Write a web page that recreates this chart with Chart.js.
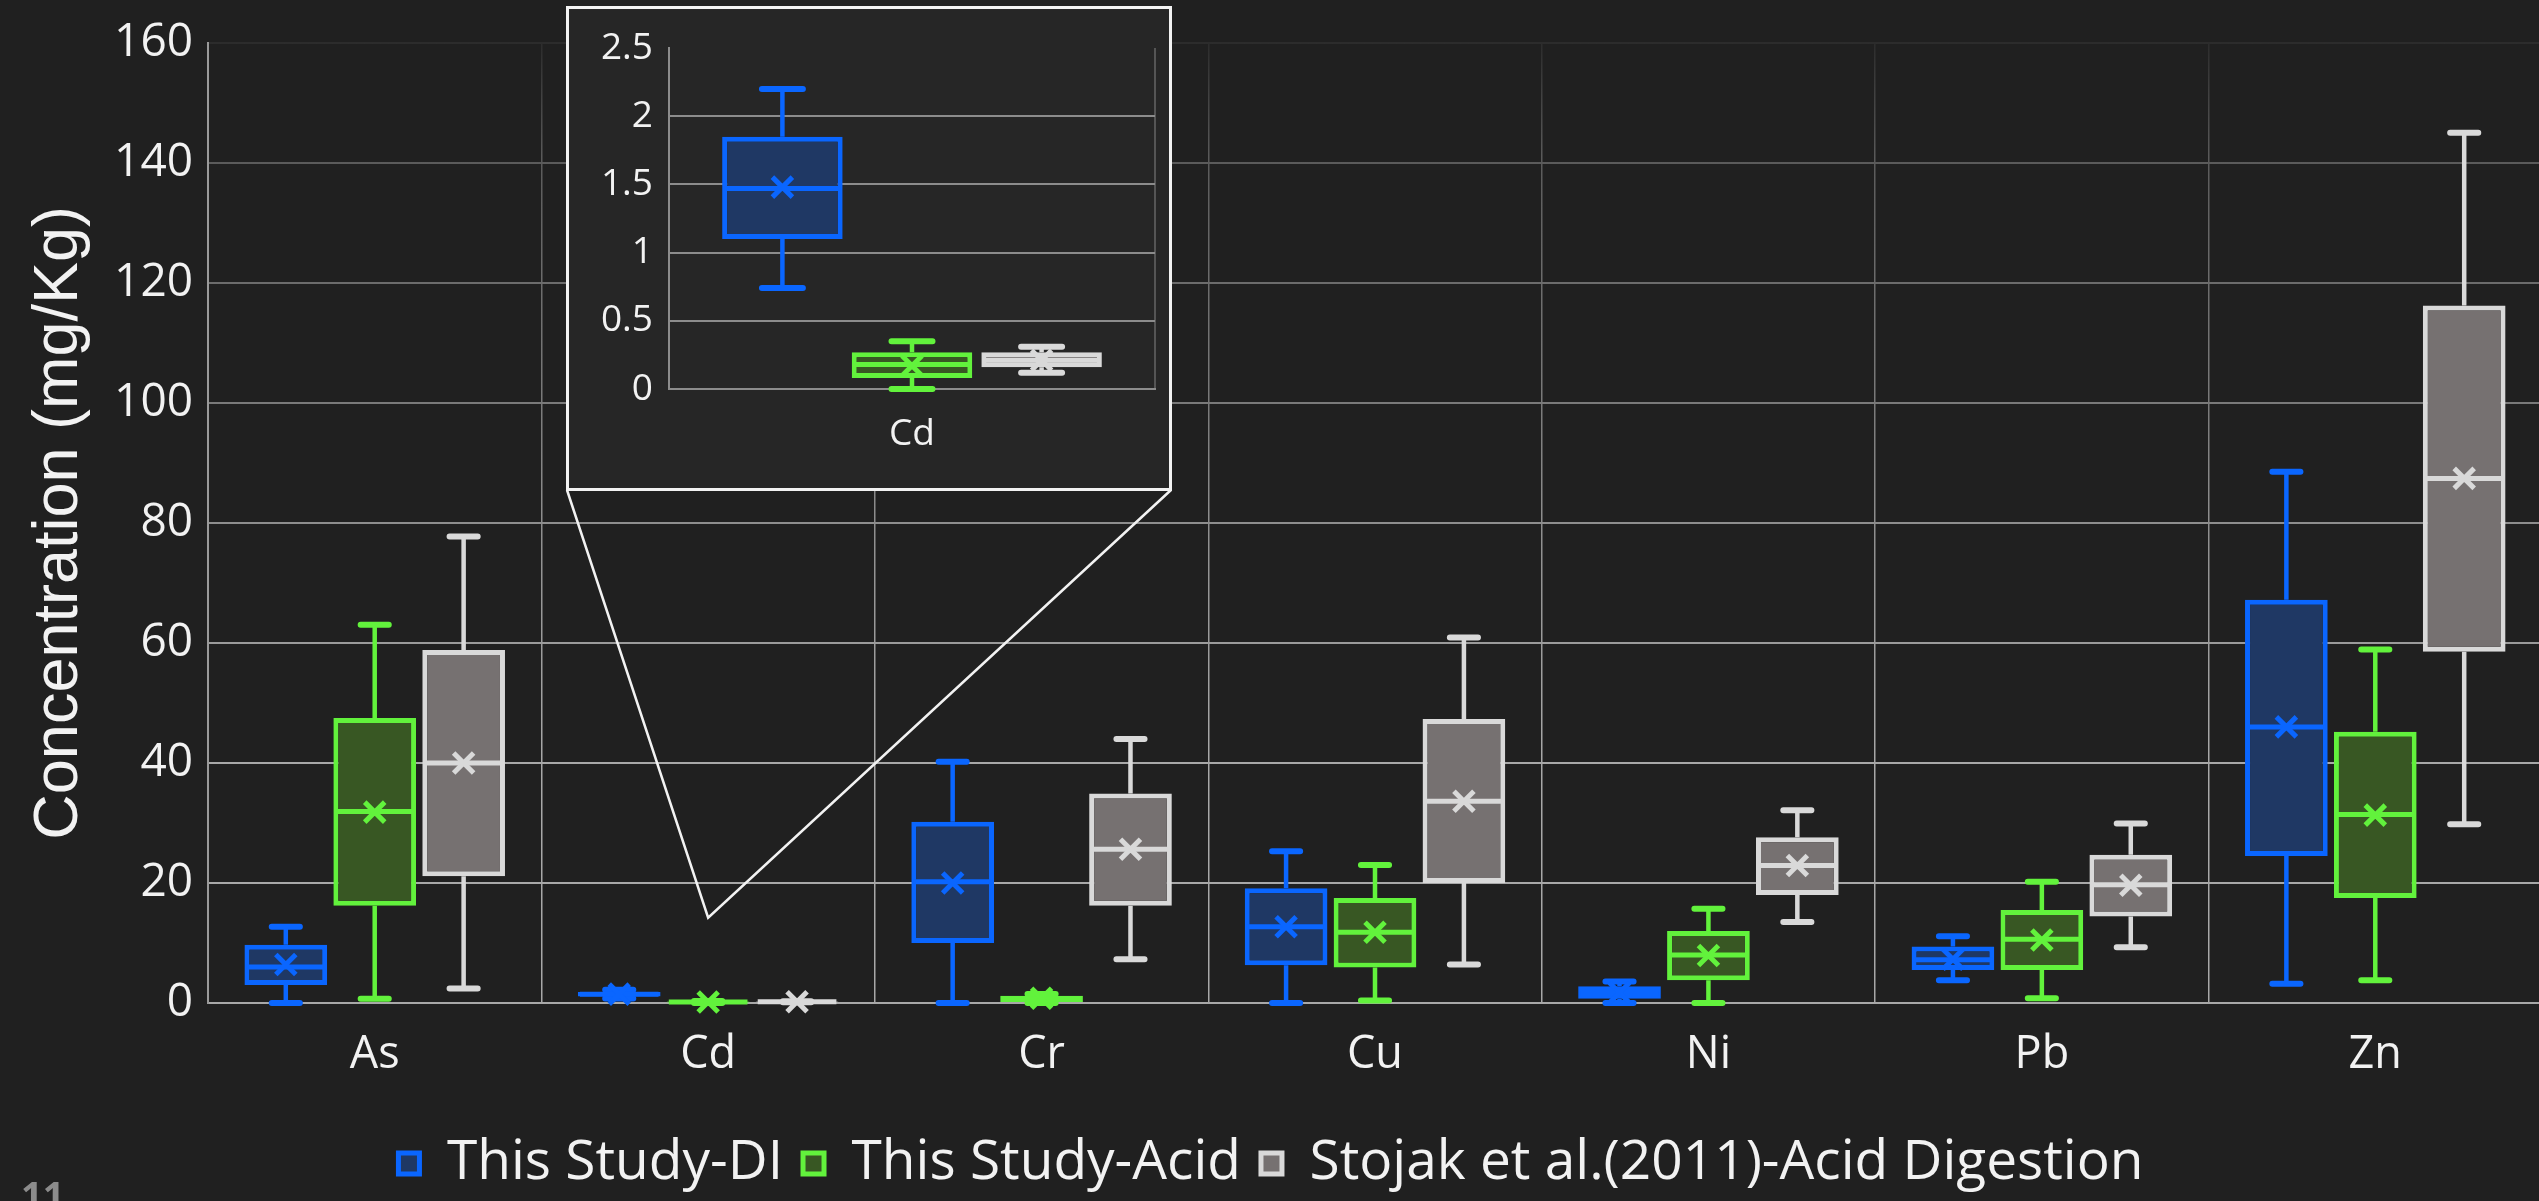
<!DOCTYPE html>
<html lang="en">
<head>
  <meta charset="UTF-8">
  <title>Heavy metal concentrations</title>
  <script src="https://cdn.jsdelivr.net/npm/chart.js"></script>
  <style>
    body {
      margin: 0;
      background-color: #202020;
      overflow: hidden;
      width: 2539px;
      height: 1201px;
      font-family: "Open Sans", sans-serif;
    }
    .main {
      position: absolute;
      left: 0;
      top: 0;
      width: 2542px;
      height: 1201px;
    }
    .inset {
      position: absolute;
      left: 566px;
      top: 6px;
      width: 600px;
      height: 479px;
      border: 3px solid #f2f2f2;
      background-color: #262626;
    }
    .slide-no {
      position: absolute;
      left: 21px;
      top: 1175px;
      font-size: 38px;
      font-weight: bold;
      line-height: 1;
      color: #8c8c8c;
    }
  </style>
</head>
<body>
  <div class="main"><canvas id="boxChart"></canvas></div>
  <div class="inset" id="inset"><canvas id="cdChart"></canvas></div>
  <div class="slide-no">11</div>

  <script>
    const elements = ['As', 'Cd', 'Cr', 'Cu', 'Ni', 'Pb', 'Zn'];
    const seriesLabels = ['This Study-DI', 'This Study-Acid', 'Stojak et al.(2011)-Acid Digestion'];

    // This Study-DI (mg/Kg)
    const diMin  = [0,    0.74, 0,    0,    0,    3.8,  3.2];
    const diQ1   = [3.0,  1.10, 10.0, 6.3,  0.7,  5.5,  24.5];
    const diMed  = [6.0,  1.47, 20.2, 12.7, 1.6,  7.2,  46.0];
    const diQ3   = [9.7,  1.85, 30.2, 19.1, 2.8,  9.4,  67.2];
    const diMax  = [12.7, 2.20, 40.2, 25.3, 3.6,  11.1, 88.5];
    const diMean = [6.4,  1.48, 20.0, 12.7, 1.7,  7.3,  46.0];

    // This Study-Acid (mg/Kg)
    const acidMin  = [0.7,  0.00, 0.0,  0.4,  0.0,  0.8,  3.8];
    const acidQ1   = [16.2, 0.08, 0.15, 5.9,  3.8,  5.5,  17.5];
    const acidMed  = [31.9, 0.18, 0.7,  11.8, 8.0,  10.6, 31.4];
    const acidQ3   = [47.5, 0.27, 1.2,  17.5, 12.0, 15.5, 45.2];
    const acidMax  = [63.0, 0.35, 1.5,  23.0, 15.7, 20.2, 58.9];
    const acidMean = [31.8, 0.17, 0.8,  11.8, 7.9,  10.5, 31.3];

    // Stojak et al. (2011) acid digestion (mg/Kg)
    const stoMin  = [2.4,  0.12, 7.3,  6.4,  13.5, 9.3,  29.8];
    const stoQ1   = [21.1, 0.16, 16.2, 20.0, 18.0, 14.4, 58.5];
    const stoMed  = [40.0, 0.21, 25.6, 33.6, 22.9, 19.7, 87.4];
    const stoQ3   = [58.8, 0.27, 34.9, 47.3, 27.6, 24.7, 116.2];
    const stoMax  = [77.7, 0.31, 44.0, 60.9, 32.1, 29.9, 145.0];
    const stoMean = [40.0, 0.21, 25.6, 33.6, 22.9, 19.6, 87.4];

    const series = [
      { label: seriesLabels[0], min: diMin, q1: diQ1, med: diMed, q3: diQ3, max: diMax, mean: diMean,
        line: '#0a66ff', fill: '#1f3864' },
      { label: seriesLabels[1], min: acidMin, q1: acidQ1, med: acidMed, q3: acidQ3, max: acidMax, mean: acidMean,
        line: '#62f23c', fill: '#385723' },
      { label: seriesLabels[2], min: stoMin, q1: stoQ1, med: stoMed, q3: stoQ3, max: stoMax, mean: stoMean,
        line: '#d9d9d9', fill: '#767171' }
    ];

    Chart.defaults.font.family = '"Open Sans", sans-serif';

    // boxes are floating bars q1..q3, the rest is drawn on top of them
    function makeDatasets(idx) {
      return series.map(s => ({
        label: s.label,
        data: idx.map(i => [s.q1[i], s.q3[i]]),
        stats: idx.map(i => ({ min: s.min[i], med: s.med[i], max: s.max[i], mean: s.mean[i],
                               q1: s.q1[i], q3: s.q3[i] })),
        backgroundColor: s.fill,
        borderColor: s.line,
        borderWidth: 5,
        borderSkipped: false,
        categoryPercentage: 0.8,
        barPercentage: 0.93
      }));
    }

    const boxPlot = {
      id: 'boxPlot',
      afterDatasetsDraw(chart) {
        const ctx = chart.ctx;
        const y = chart.scales.y;
        const py = v => y.getPixelForValue(v);
        ctx.save();
        chart.data.datasets.forEach((ds, d) => {
          chart.getDatasetMeta(d).data.forEach((bar, i) => {
            const s = ds.stats[i];
            const { x, width } = bar.getProps(['x', 'width'], true);
            const half = width / 2;
            const cap = width * 0.17;
            ctx.strokeStyle = ds.borderColor;

            // whiskers
            ctx.lineWidth = 4.5;
            ctx.lineCap = 'butt';
            ctx.beginPath();
            ctx.moveTo(x, py(s.q3));
            ctx.lineTo(x, py(s.max));
            ctx.moveTo(x, py(s.q1));
            ctx.lineTo(x, py(s.min));
            ctx.stroke();

            ctx.lineWidth = 6;
            ctx.lineCap = 'round';
            ctx.beginPath();
            ctx.moveTo(x - cap, py(s.max));
            ctx.lineTo(x + cap, py(s.max));
            ctx.moveTo(x - cap, py(s.min));
            ctx.lineTo(x + cap, py(s.min));
            ctx.stroke();

            // median
            ctx.lineWidth = 5;
            ctx.lineCap = 'butt';
            ctx.beginPath();
            ctx.moveTo(x - half + 2, py(s.med));
            ctx.lineTo(x + half - 2, py(s.med));
            ctx.stroke();

            // mean marker
            const my = py(s.mean);
            const r = 10;
            ctx.lineWidth = 5;
            ctx.beginPath();
            ctx.moveTo(x - r, my - r);
            ctx.lineTo(x + r, my + r);
            ctx.moveTo(x + r, my - r);
            ctx.lineTo(x - r, my + r);
            ctx.stroke();
          });
        });
        ctx.restore();
      }
    };

    // lines from the Cd boxes up to the corners of the zoomed panel
    const zoomCallout = {
      id: 'zoomCallout',
      beforeDatasetsDraw(chart) {
        const panel = document.getElementById('inset').getBoundingClientRect();
        const cv = chart.canvas.getBoundingClientRect();
        const tipX = chart.scales.x.getPixelForValue(elements.indexOf('Cd'));
        const tipY = chart.scales.y.getPixelForValue(14.2);
        const ctx = chart.ctx;
        ctx.save();
        ctx.strokeStyle = '#f2f2f2';
        ctx.lineWidth = 2.5;
        ctx.beginPath();
        ctx.moveTo(panel.left - cv.left + 1, panel.bottom - cv.top - 1);
        ctx.lineTo(tipX, tipY);
        ctx.lineTo(panel.right - cv.left - 1, panel.bottom - cv.top - 1);
        ctx.stroke();
        ctx.restore();
      }
    };

    // grid fades out towards the top of the plot
    function gridShade(c) {
      const area = c.chart.chartArea;
      if (!area) return '#8a8a8a';
      const g = c.chart.ctx.createLinearGradient(0, area.top, 0, area.bottom);
      g.addColorStop(0, '#2c2c2c');
      g.addColorStop(0.12, '#5a5a5a');
      g.addColorStop(0.25, '#6c6c6c');
      g.addColorStop(0.375, '#7a7a7a');
      g.addColorStop(0.5, '#8e8e8e');
      g.addColorStop(0.75, '#a8a8a8');
      g.addColorStop(1, '#a8a8a8');
      return g;
    }

    new Chart(document.getElementById('boxChart'), {
      type: 'bar',
      data: { labels: elements, datasets: makeDatasets(elements.map((e, i) => i)) },
      plugins: [zoomCallout, boxPlot],
      options: {
        responsive: true,
        maintainAspectRatio: false,
        animation: false,
        layout: { padding: { top: 31, right: 0, bottom: 0, left: 0 } },
        plugins: {
          tooltip: { enabled: false },
          legend: {
            position: 'bottom',
            labels: { color: '#f2f2f2', font: { size: 55 }, boxWidth: 21, boxHeight: 21, padding: 20 }
          }
        },
        scales: {
          x: {
            grid: { color: gridShade, lineWidth: 1.5, drawTicks: false, offset: true },
            border: { color: '#a8a8a8', width: 2 },
            ticks: { color: '#f2f2f2', font: { size: 45 }, padding: 25, maxRotation: 0 },
            afterFit: s => { s.height = 113; }
          },
          y: {
            min: 0,
            max: 160,
            ticks: { stepSize: 20, color: '#f2f2f2', font: { size: 46 }, padding: 15 },
            grid: { color: gridShade, lineWidth: 2, drawTicks: false },
            border: { color: '#9a9a9a', width: 2 },
            title: {
              display: true,
              text: 'Concentration (mg/Kg)',
              color: '#f2f2f2',
              font: { family: '"Liberation Sans", Arial, sans-serif', size: 63 },
              padding: { top: 22, bottom: 0 }
            },
            afterFit: s => { s.width = 208; }
          }
        }
      }
    });

    // zoomed view of the Cd group
    const cdIdx = [elements.indexOf('Cd')];
    new Chart(document.getElementById('cdChart'), {
      type: 'bar',
      data: { labels: cdIdx.map(i => elements[i]), datasets: makeDatasets(cdIdx) },
      plugins: [boxPlot],
      options: {
        responsive: true,
        maintainAspectRatio: false,
        animation: false,
        layout: { padding: { top: 39, right: 14, bottom: 0, left: 0 } },
        plugins: { tooltip: { enabled: false }, legend: { display: false } },
        scales: {
          x: {
            grid: { color: c => (c.index === 0 ? '#8c8c8c' : '#555555'), lineWidth: 2, drawTicks: false, offset: true },
            border: { color: '#8c8c8c', width: 2 },
            ticks: { color: '#f2f2f2', font: { size: 37 }, padding: 23 },
            afterFit: s => { s.height = 99; }
          },
          y: {
            min: 0,
            max: 2.5,
            ticks: { stepSize: 0.5, color: '#f2f2f2', font: { size: 37 }, padding: 16,
                     callback: v => String(+v.toFixed(2)) },
            grid: { color: c => (c.tick.value >= 2.5 ? 'rgba(0,0,0,0)' : '#8c8c8c'), lineWidth: 2, drawTicks: false },
            border: { color: '#8c8c8c', width: 2 },
            afterFit: s => { s.width = 100; }
          }
        }
      }
    });
  </script>
</body>
</html>
